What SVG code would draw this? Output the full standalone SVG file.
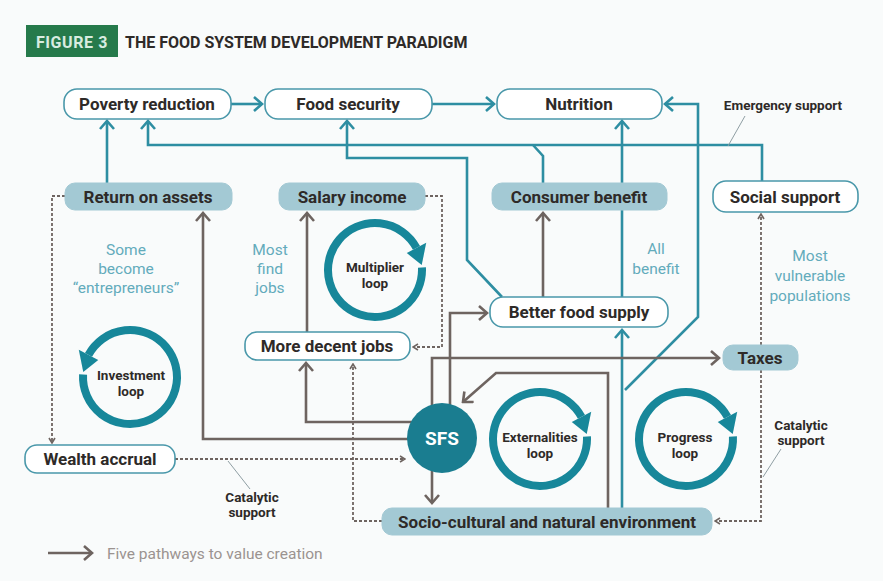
<svg xmlns="http://www.w3.org/2000/svg" width="883" height="581" viewBox="0 0 883 581">
<defs>
<style>
.t{font-family:Roboto,"Noto Sans",sans-serif;font-weight:700;font-size:17px;fill:#2e2a28;text-anchor:middle}
.s{font-family:Roboto,"Noto Sans",sans-serif;font-weight:700;font-size:13.5px;fill:#2e2a28;text-anchor:middle}
.l{font-family:Roboto,"Noto Sans",sans-serif;font-weight:400;font-size:15.5px;fill:#63abbb;text-anchor:middle}
.ob{fill:#ffffff;stroke:#4a98aa;stroke-width:1.6}
.fb{fill:#a3c9d4;stroke:#a3c9d4;stroke-width:1}
.tc{fill:none;stroke:#2e8ea2;stroke-width:2.6}
.gc{fill:none;stroke:#6e6460;stroke-width:2.6}
.dc{fill:none;stroke:#6e6460;stroke-width:1.8;stroke-dasharray:3 2}
.ld{fill:none;stroke:#8f9ea3;stroke-width:1}
.ring{fill:none;stroke:#17879a;stroke-width:8}
.rh{fill:#17879a}
</style>
<marker id="at" viewBox="0 0 14 16" refX="12" refY="8" markerWidth="14" markerHeight="16" markerUnits="userSpaceOnUse" orient="auto"><path d="M4,1 L12,8 L4,15" fill="none" stroke="#2e8ea2" stroke-width="2.6"/></marker>
<marker id="ag" viewBox="0 0 14 16" refX="12" refY="8" markerWidth="14" markerHeight="16" markerUnits="userSpaceOnUse" orient="auto"><path d="M4,1 L12,8 L4,15" fill="none" stroke="#6e6460" stroke-width="2.6"/></marker>
<marker id="ad" viewBox="0 0 8 8" refX="7" refY="4" markerWidth="8" markerHeight="8" markerUnits="userSpaceOnUse" orient="auto"><path d="M2,1 L7,4 L2,7" fill="none" stroke="#6e6460" stroke-width="1.6"/></marker>
</defs>
<rect width="883" height="581" fill="#f9fbfb"/>

<g id="title">
<rect x="26" y="25" width="92" height="32" fill="#267a4b"/>
<text x="72" y="47.5" font-family="Roboto,'Noto Sans',sans-serif" font-weight="700" font-size="16" letter-spacing="0.6" fill="#d8ece0" text-anchor="middle">FIGURE 3</text>
<text x="125" y="47.5" font-family="Roboto,'Noto Sans',sans-serif" font-weight="700" font-size="16" fill="#2e2a28">THE FOOD SYSTEM DEVELOPMENT PARADIGM</text>
</g>

<g id="connectors">
<path class="tc" d="M231,104 H262" marker-end="url(#at)"/>
<path class="tc" d="M432,104 H494" marker-end="url(#at)"/>
<path class="tc" d="M625,390 L698,317 V104 H665" marker-end="url(#at)"/>
<path class="tc" d="M622,508 V330" marker-end="url(#at)"/>
<path class="tc" d="M622,297 V121" marker-end="url(#at)"/>
<path class="tc" d="M502,297 L467,260 V158 H347 V121" marker-end="url(#at)"/>
<path class="tc" d="M762,181 V145 H148 V121" marker-end="url(#at)"/>
<path class="tc" d="M543,183 V156 L533,145"/>
<path class="tc" d="M107,183 V121" marker-end="url(#at)"/>

<path class="gc" d="M420,439 H203 V213" marker-end="url(#ag)"/>
<path class="gc" d="M420,422 H306 V363" marker-end="url(#ag)"/>
<path class="gc" d="M307,332 V213" marker-end="url(#ag)"/>
<path class="gc" d="M450,410 V313 H487" marker-end="url(#ag)"/>
<path class="gc" d="M432,410 V358 H719" marker-end="url(#ag)"/>
<path class="gc" d="M543,297 V213" marker-end="url(#ag)"/>
<path class="gc" d="M608,508 V373 H496 L463,402" marker-end="url(#ag)"/>
<path class="gc" d="M432,466 V503" marker-end="url(#ag)"/>

<path class="dc" d="M65,196 H52 V443" marker-end="url(#ad)"/>
<path class="dc" d="M425,196 H442 V347 H413" marker-end="url(#ad)"/>
<path class="dc" d="M175,459 H405" marker-end="url(#ad)"/>
<path class="dc" d="M382,521 H353 V364" marker-end="url(#ad)"/>
<path class="dc" d="M761,345 V214" marker-end="url(#ad)"/>
<path class="dc" d="M761,370 V521 H715" marker-end="url(#ad)"/>

<path class="ld" d="M745,116 L728,146"/>
<path class="ld" d="M228,461 L250,489"/>
<path class="ld" d="M781,449 L763,477"/>
</g>

<g id="poverty-reduction"><rect class="ob" x="64" y="89" width="167" height="30" rx="13"/><text class="t" x="147" y="110">Poverty reduction</text></g>
<g id="food-security"><rect class="ob" x="265" y="89" width="167" height="30" rx="13"/><text class="t" x="348" y="110">Food security</text></g>
<g id="nutrition"><rect class="ob" x="497" y="89" width="165" height="30" rx="13"/><text class="t" x="579" y="110">Nutrition</text></g>
<g id="emergency-support"><text class="s" x="783" y="110">Emergency support</text></g>

<g id="return-on-assets"><rect class="fb" x="65" y="183" width="167" height="27" rx="10"/><text class="t" x="148" y="202.5">Return on assets</text></g>
<g id="salary-income"><rect class="fb" x="279" y="183" width="146" height="27" rx="10"/><text class="t" x="352" y="202.5">Salary income</text></g>
<g id="consumer-benefit"><rect class="fb" x="492" y="183" width="175" height="27" rx="10"/><text class="t" x="579" y="202.5">Consumer benefit</text></g>
<g id="social-support"><rect class="ob" x="713" y="181" width="145" height="31" rx="13"/><text class="t" x="785" y="202.5">Social support</text></g>

<g id="label-entrepreneurs"><text class="l" x="126" y="255">Some</text><text class="l" x="126" y="274">become</text><text class="l" x="126" y="293">“entrepreneurs”</text></g>
<g id="label-most-find-jobs"><text class="l" x="270" y="255">Most</text><text class="l" x="270" y="274">find</text><text class="l" x="270" y="293">jobs</text></g>
<g id="label-all-benefit"><text class="l" x="656" y="254">All</text><text class="l" x="656" y="274">benefit</text></g>
<g id="label-vulnerable"><text class="l" x="810" y="261">Most</text><text class="l" x="810" y="281">vulnerable</text><text class="l" x="810" y="301">populations</text></g>

<g id="multiplier-loop">
<path class="ring" d="M421.94,267.54 A47,47 0 1 1 416.5,247.93"/>
<polygon class="rh" points="426.21,242.77 406.78,253.1 421.74,265.09"/>
<text class="s" x="375" y="272">Multiplier</text><text class="s" x="375" y="288">loop</text>
</g>
<g id="investment-loop">
<path class="ring" d="M83.06,374.54 A47,47 0 1 0 88.5,354.93"/>
<polygon class="rh" points="78.79,349.77 98.22,360.1 83.26,372.09"/>
<text class="s" x="131" y="380">Investment</text><text class="s" x="131" y="396">loop</text>
</g>
<g id="externalities-loop">
<path class="ring" d="M586.94,436.54 A47,47 0 1 1 581.5,416.93"/>
<polygon class="rh" points="591.21,411.77 571.78,422.1 586.74,434.09"/>
<text class="s" x="540" y="442">Externalities</text><text class="s" x="540" y="458">loop</text>
</g>
<g id="progress-loop">
<path class="ring" d="M732.94,436.54 A47,47 0 1 1 727.5,416.93"/>
<polygon class="rh" points="737.21,411.77 717.78,422.1 732.74,434.09"/>
<text class="s" x="685" y="442">Progress</text><text class="s" x="685" y="458">loop</text>
</g>

<g id="better-food-supply"><rect class="ob" x="490" y="297" width="178" height="30" rx="13"/><text class="t" x="579" y="318">Better food supply</text></g>
<g id="more-decent-jobs"><rect class="ob" x="245" y="332" width="165" height="28" rx="12"/><text class="t" x="327" y="352">More decent jobs</text></g>
<g id="taxes"><rect class="fb" x="723" y="345" width="75" height="25" rx="10"/><text class="t" x="760" y="363.5">Taxes</text></g>

<g id="sfs"><circle cx="442" cy="438" r="35" fill="#1a7d90"/><text x="442" y="445" font-family="Roboto,'Noto Sans',sans-serif" font-weight="700" font-size="19" fill="#ffffff" text-anchor="middle">SFS</text></g>
<g id="wealth-accrual"><rect class="ob" x="25" y="445" width="150" height="28" rx="12"/><text class="t" x="100" y="465">Wealth accrual</text></g>
<g id="catalytic-support-1"><text class="s" x="252" y="502">Catalytic</text><text class="s" x="252" y="517">support</text></g>
<g id="catalytic-support-2"><text class="s" x="801" y="430">Catalytic</text><text class="s" x="801" y="445">support</text></g>
<g id="socio-cultural"><rect class="fb" x="382" y="508" width="330" height="27" rx="10"/><text class="t" x="547" y="527.5">Socio-cultural and natural environment</text></g>

<g id="legend">
<path class="gc" d="M48,553 H92" marker-end="url(#ag)"/>
<text x="107" y="558.5" font-family="Roboto,'Noto Sans',sans-serif" font-weight="400" font-size="15.5" fill="#9b9390">Five pathways to value creation</text>
</g>
</svg>
